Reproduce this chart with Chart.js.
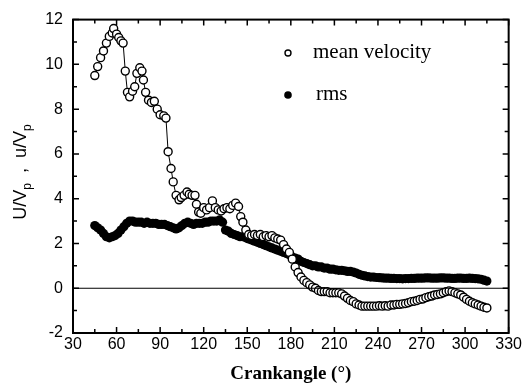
<!DOCTYPE html>
<html>
<head>
<meta charset="utf-8">
<script src="https://cdn.jsdelivr.net/npm/chart.js@4/dist/chart.umd.min.js"></script>
<style>
  html, body { margin: 0; padding: 0; background: #fff; }
  #wrap { width: 524px; height: 389px; }
</style>
</head>
<body>
<div id="wrap"><canvas id="chart" width="524" height="389"></canvas></div>
<script>
// tick labels
const xTicks = [30, 60, 90, 120, 150, 180, 210, 240, 270, 300, 330];
const yTicks = [-2, 0, 2, 4, 6, 8, 10, 12];

// mean velocity (open circles with line)
const meanAngle = [45, 47, 49, 51, 53, 55, 57, 58, 60, 61.5, 63, 64.5, 66, 67.5, 69, 71, 72.5, 74, 76, 77.5,
  78.5, 80, 82, 84, 86, 88, 90, 92.5, 94, 95.5, 97.5, 99, 101, 103, 104.5, 106.5, 108.5, 110, 112, 114,
  115, 116.5, 118, 120, 122, 124, 126, 128, 130, 132, 134, 136, 138, 140, 142, 144, 145.5, 147, 149, 151,
  153, 155, 157, 159, 161, 163, 165, 167, 169, 171, 173, 175, 177, 179, 181, 183, 185, 187, 189, 191,
  193, 195, 197, 199, 201, 203, 205, 207, 209, 211, 213, 215, 217, 219, 221, 223, 225, 227, 229, 231,
  233, 235, 237, 239, 241, 243, 245, 247, 249, 251, 253, 255, 257, 259, 261, 263, 265, 267, 269, 271,
  273, 275, 277, 279, 281, 283, 285, 287, 289, 291, 293, 295, 297, 299, 301, 303, 305, 307, 309, 311,
  313, 315];
const meanValue = [9.5, 9.9, 10.3, 10.6, 10.95, 11.25, 11.4, 11.6, 11.35, 11.2, 11.05, 10.95, 9.7, 8.75, 8.55, 8.8, 9.0, 9.6, 9.85, 9.7,
  9.3, 8.75, 8.4, 8.3, 8.35, 8.0, 7.75, 7.7, 7.6, 6.1, 5.35, 4.75, 4.15, 3.95, 4.05, 4.15, 4.3, 4.2, 4.15, 4.15,
  3.75, 3.4, 3.35, 3.6, 3.5, 3.6, 3.9, 3.6, 3.5, 3.45, 3.55, 3.6, 3.55, 3.7, 3.8, 3.65, 3.2, 2.95, 2.6, 2.4,
  2.35, 2.4, 2.35, 2.4, 2.3, 2.35, 2.3, 2.35, 2.25, 2.2, 2.15, 1.95, 1.75, 1.6, 1.3, 0.95, 0.7, 0.5, 0.35, 0.25,
  0.15, 0.05, 0.0, -0.1, -0.15, -0.15, -0.15, -0.2, -0.2, -0.2, -0.2, -0.25, -0.35, -0.45, -0.55, -0.6, -0.7, -0.75, -0.8, -0.8,
  -0.8, -0.8, -0.8, -0.8, -0.78, -0.8, -0.78, -0.8, -0.75, -0.75, -0.72, -0.72, -0.7, -0.68, -0.65, -0.6, -0.58, -0.55, -0.5, -0.48,
  -0.42, -0.38, -0.35, -0.3, -0.28, -0.25, -0.2, -0.15, -0.12, -0.15, -0.2, -0.25, -0.3, -0.4, -0.5, -0.58, -0.65, -0.7, -0.75, -0.8,
  -0.85, -0.88];

// rms (filled circles)
const rmsAngle = [45, 47, 49, 51, 53, 55, 57, 59, 61, 63, 65, 67, 69, 71, 73, 75, 77, 79, 81, 83,
  85, 87, 89, 91, 93, 95, 97, 99, 101, 103, 105, 107, 109, 111, 113, 115, 117, 119, 121, 123,
  125, 127, 129, 131, 133, 135, 137, 139, 141, 143, 145, 147, 149, 151, 153, 155, 157, 159, 161, 163,
  165, 167, 169, 171, 173, 175, 177, 179, 181, 183, 185, 187, 189, 191, 193, 195, 197, 199, 201, 203,
  205, 207, 209, 211, 213, 215, 217, 219, 221, 223, 225, 227, 229, 231, 233, 235, 237, 239, 241, 243,
  245, 247, 249, 251, 253, 255, 257, 259, 261, 263, 265, 267, 269, 271, 273, 275, 277, 279, 281, 283,
  285, 287, 289, 291, 293, 295, 297, 299, 301, 303, 305, 307, 309, 311, 313, 315];
const rmsValue = [2.8, 2.7, 2.6, 2.45, 2.3, 2.25, 2.3, 2.35, 2.45, 2.6, 2.75, 2.9, 3.0, 3.0, 2.95, 2.95, 2.95, 2.9, 2.95, 2.9,
  2.9, 2.9, 2.85, 2.85, 2.85, 2.8, 2.75, 2.7, 2.65, 2.7, 2.8, 2.9, 2.95, 2.9, 2.85, 2.9, 2.9, 2.9, 2.95, 2.95,
  3.0, 3.0, 3.0, 3.05, 2.95, 2.6, 2.55, 2.45, 2.4, 2.35, 2.3, 2.3, 2.25, 2.2, 2.15, 2.1, 2.05, 2.0, 1.95, 1.9,
  1.85, 1.8, 1.75, 1.7, 1.65, 1.6, 1.55, 1.5, 1.4, 1.35, 1.3, 1.2, 1.15, 1.1, 1.05, 1.0, 1.0, 0.95, 0.95, 0.9,
  0.9, 0.85, 0.85, 0.82, 0.8, 0.8, 0.78, 0.75, 0.75, 0.72, 0.68, 0.62, 0.58, 0.55, 0.52, 0.5, 0.5, 0.48, 0.47, 0.46,
  0.45, 0.45, 0.44, 0.44, 0.43, 0.43, 0.42, 0.43, 0.43, 0.44, 0.44, 0.45, 0.45, 0.45, 0.46, 0.46, 0.45, 0.45, 0.45, 0.46,
  0.46, 0.45, 0.45, 0.44, 0.44, 0.45, 0.45, 0.44, 0.44, 0.45, 0.44, 0.43, 0.42, 0.4, 0.36, 0.32];

const seriesNames = ['mean velocity', 'rms'];

// frame, inward ticks, zero line, legend, y title
const decorations = {
  id: 'decorations',
  afterDatasetsDraw(chart) {
    const ctx = chart.ctx;
    const xs = chart.scales.x, ys = chart.scales.y;
    const a = chart.chartArea;
    ctx.save();
    ctx.strokeStyle = '#000';

    // zero line
    ctx.lineWidth = 1.2;
    const y0 = ys.getPixelForValue(0);
    ctx.beginPath();
    ctx.moveTo(a.left, y0);
    ctx.lineTo(a.right, y0);
    ctx.stroke();

    // frame
    ctx.lineWidth = 2;
    ctx.strokeRect(a.left, a.top, a.right - a.left, a.bottom - a.top);

    // ticks
    ctx.lineWidth = 1.5;
    ctx.beginPath();
    for (let v = 30; v <= 330; v += 15) {
      const p = xs.getPixelForValue(v);
      const len = v % 30 === 0 ? 6 : 4;
      ctx.moveTo(p, a.bottom); ctx.lineTo(p, a.bottom - len);
      ctx.moveTo(p, a.top); ctx.lineTo(p, a.top + len);
    }
    for (let v = -2; v <= 12; v += 1) {
      const p = ys.getPixelForValue(v);
      const len = v % 2 === 0 ? 6 : 4;
      ctx.moveTo(a.left, p); ctx.lineTo(a.left + len, p);
      ctx.moveTo(a.right, p); ctx.lineTo(a.right - len, p);
    }
    ctx.stroke();

    // legend
    ctx.font = '21px "Liberation Serif", serif';
    ctx.fillStyle = '#000';
    ctx.textBaseline = 'middle';
    ctx.lineWidth = 1.4;
    ctx.beginPath();
    ctx.arc(288, 53, 3, 0, Math.PI * 2);
    ctx.stroke();
    ctx.fillText(seriesNames[0], 313, 52);
    ctx.beginPath();
    ctx.arc(288, 95, 3.8, 0, Math.PI * 2);
    ctx.fill();
    ctx.fillText(seriesNames[1], 316, 94);

    // y title with subscripts
    ctx.translate(21, 172);
    ctx.rotate(-Math.PI / 2);
    ctx.textBaseline = 'alphabetic';
    const parts = [['U/V', 18, 0], ['p', 12, 5], ['  ,  u/V', 18, 0], ['p', 12, 5]];
    let total = 0;
    parts.forEach(([t, s]) => { ctx.font = s + 'px "Liberation Sans", sans-serif'; total += ctx.measureText(t).width; });
    let x = -total / 2;
    parts.forEach(([t, s, dy]) => {
      ctx.font = s + 'px "Liberation Sans", sans-serif';
      ctx.fillText(t, x, 5 + dy);
      x += ctx.measureText(t).width;
    });
    ctx.restore();
  }
};

new Chart(document.getElementById('chart'), {
  type: 'line',
  data: {
    datasets: [
      {
        label: seriesNames[0],
        data: meanAngle.map((a, i) => ({ x: a, y: meanValue[i] })),
        borderColor: '#000',
        borderWidth: 1,
        pointRadius: 4,
        pointBorderWidth: 1.4,
        pointBackgroundColor: '#fff',
        pointBorderColor: '#000',
        showLine: true,
        tension: 0
      },
      {
        label: seriesNames[1],
        data: rmsAngle.map((a, i) => ({ x: a, y: rmsValue[i] })),
        borderColor: '#000',
        pointRadius: 4.6,
        pointBorderWidth: 0,
        pointBackgroundColor: '#000',
        showLine: false
      }
    ]
  },
  options: {
    responsive: false,
    animation: false,
    layout: { padding: { top: 12, right: 15, left: 0, bottom: 0 } },
    plugins: { legend: { display: false }, tooltip: { enabled: false } },
    scales: {
      x: {
        type: 'linear',
        min: 30,
        max: 330,
        afterBuildTicks: s => { s.ticks = xTicks.map(v => ({ value: v })); },
        afterFit: s => { s.height = 56; },
        grid: { display: false, drawTicks: false },
        border: { display: false },
        ticks: { color: '#000', padding: 2, maxRotation: 0, font: { family: '"Liberation Sans", sans-serif', size: 16 } },
        title: {
          display: true,
          text: 'Crankangle (°)',
          color: '#000',
          padding: { top: 2 },
          font: { family: '"Liberation Serif", serif', size: 19, weight: 'bold' }
        }
      },
      y: {
        type: 'linear',
        min: -2,
        max: 12,
        afterBuildTicks: s => { s.ticks = yTicks.map(v => ({ value: v })); },
        afterFit: s => { s.width = 73; },
        grid: { display: false, drawTicks: false },
        border: { display: false },
        ticks: { color: '#000', padding: 10, font: { family: '"Liberation Sans", sans-serif', size: 16 } }
      }
    }
  },
  plugins: [decorations]
});
</script>
</body>
</html>
